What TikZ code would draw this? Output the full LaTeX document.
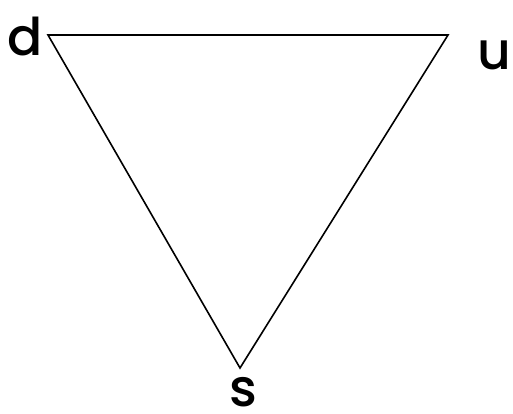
\documentclass[tikz,border=0pt]{standalone}
\usepackage{fontspec}
\setmainfont{Poppins}[UprightFont={* Medium}]
\usepackage{tikz}

\begin{document}
\begin{tikzpicture}[x=1pt,y=-1pt]
                \useasboundingbox (0,0) rectangle (513,414);

                \coordinate (D) at (48,35);
                \coordinate (U) at (448,35);
                \coordinate (S) at (240,368);

                \draw[line width=1.6pt] (D) -- (U) -- (S) -- cycle;

                \node[font=\fontsize{52}{56}\selectfont, inner sep=0pt] (dlab) at (25,36) {d};
                \node[font=\fontsize{52}{56}\selectfont, inner sep=0pt] (ulab) at (494,55) {u};
                \node[font=\fontsize{52}{56}\selectfont, inner sep=0pt, anchor=base] (slab) at (243,406) {s};
            \end{tikzpicture}
\end{document}
